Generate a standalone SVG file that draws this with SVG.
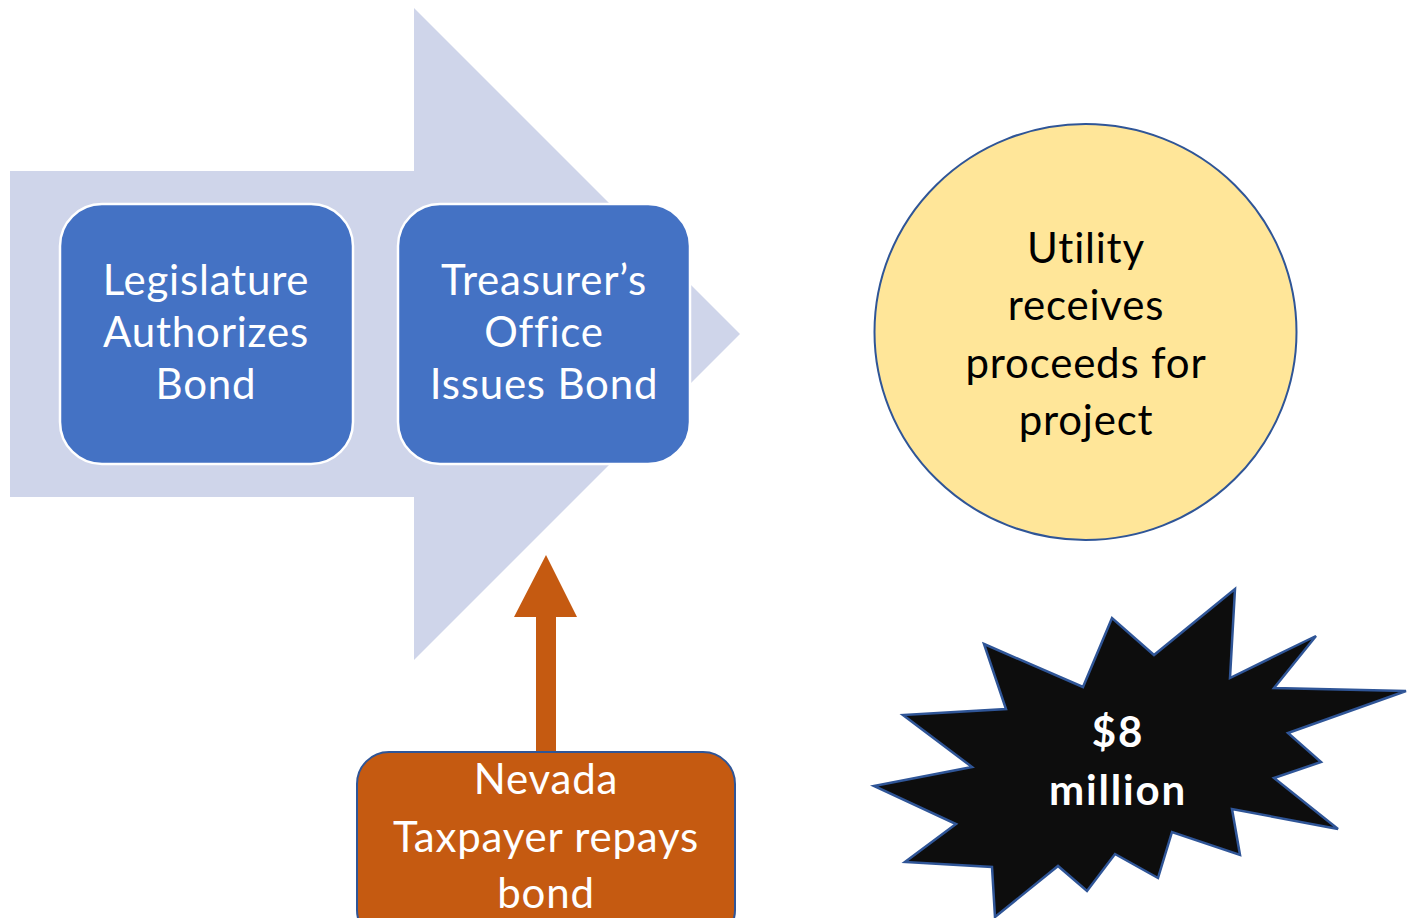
<svg xmlns="http://www.w3.org/2000/svg" width="1414" height="918" viewBox="0 0 1414 918">
<style>
.t{font-family:Lato,"Open Sans","Liberation Sans",sans-serif;font-size:42px;letter-spacing:0.8px;text-anchor:middle}
.w{fill:#ffffff}
.k{fill:#000000}
.b{font-weight:bold;letter-spacing:1.8px}
.box{fill:#4472C4;stroke:#ffffff;stroke-width:2.5}
</style>
<rect width="1414" height="918" fill="#ffffff"/>
<g id="process-arrow">
<polygon points="10,171 414,171 414,8 740,334 414,660 414,497 10,497" fill="#CFD5EA"/>
</g>
<g id="legislature">
<rect class="box" x="60" y="204" width="293" height="260" rx="42"/>
<text class="t w"><tspan x="206" y="295">Legislature</tspan><tspan x="206" y="347">Authorizes</tspan><tspan x="206" y="399">Bond</tspan></text>
</g>
<g id="treasurer">
<rect class="box" x="398" y="204" width="292" height="260" rx="42"/>
<text class="t w"><tspan x="544" y="295">Treasurer’s</tspan><tspan x="544" y="347">Office</tspan><tspan x="544" y="399">Issues Bond</tspan></text>
</g>
<g id="utility">
<ellipse cx="1085.5" cy="332" rx="211" ry="208" fill="#FFE699" stroke="#2F5597" stroke-width="2"/>
<text class="t k"><tspan x="1086" y="263">Utility</tspan><tspan x="1086" y="320">receives</tspan><tspan x="1086" y="378">proceeds for</tspan><tspan x="1086" y="435">project</tspan></text>
</g>
<g id="amount">
<polygon points="984,644 1083,687 1112,618 1154,655 1235,589 1230,678 1316,636 1274,688 1406,691 1288,733 1321,762 1274,778 1338,829 1232,809 1240,855 1172,832 1158,878 1115,854 1087,891 1058,866 995,917 992,867 905,862 956,824 874,786 972,767 903,715 1006,709" fill="#0D0D0D" stroke="#2F5597" stroke-width="2.5" stroke-linejoin="miter"/>
<text class="t w b"><tspan x="1118" y="747">$8</tspan><tspan x="1118" y="805">million</tspan></text>
</g>
<g id="connectors">
<polygon points="536,752 536,617 514,617 546,555 577,617 556,617 556,752" fill="#C55A11"/>
</g>
<g id="taxpayer">
<rect x="357" y="752" width="378" height="190" rx="32" fill="#C55A11" stroke="#2F5597" stroke-width="2"/>
<text class="t w"><tspan x="546" y="794">Nevada</tspan><tspan x="546" y="852">Taxpayer repays</tspan><tspan x="546" y="908">bond</tspan></text>
</g>
</svg>
